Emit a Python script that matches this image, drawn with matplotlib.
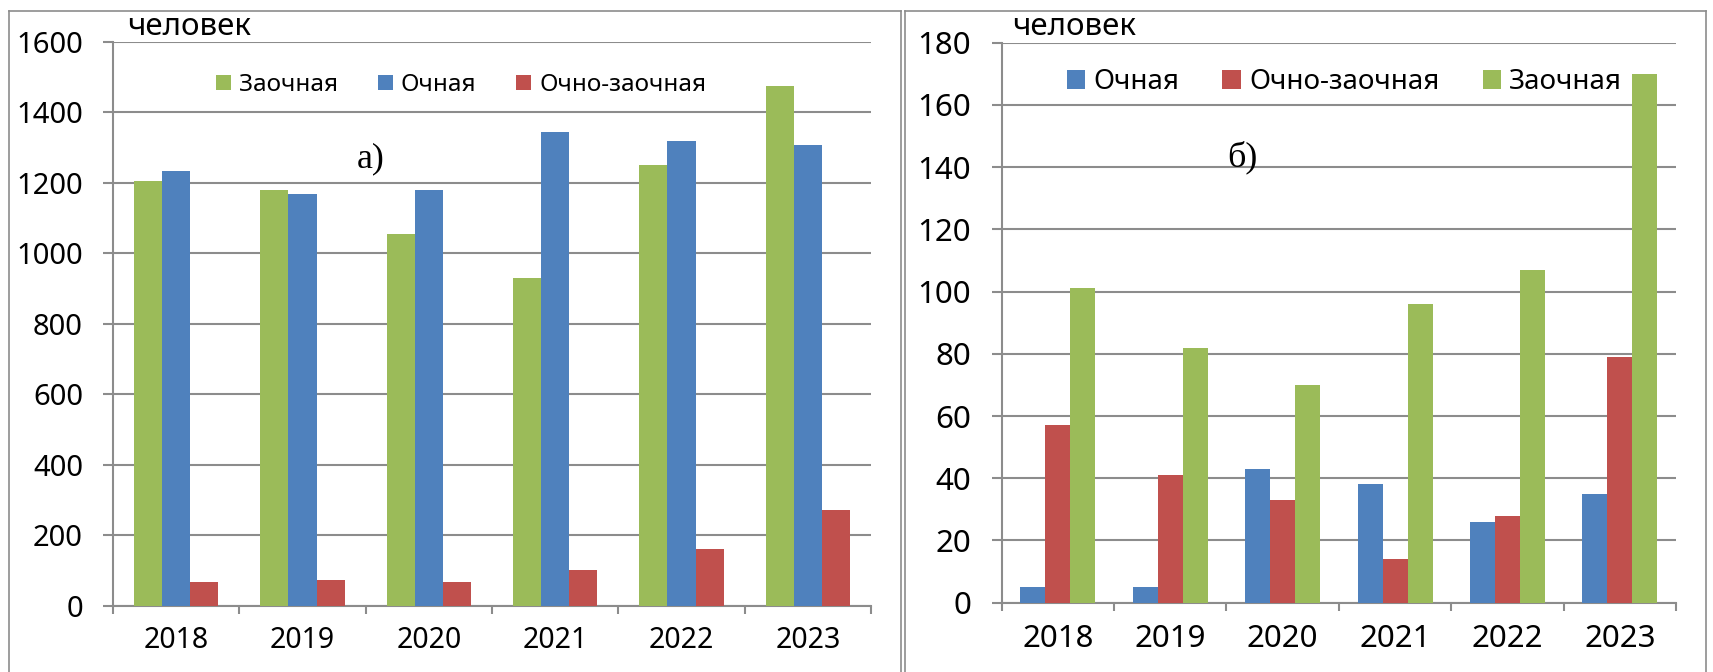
import numpy as np
import matplotlib
matplotlib.use("Agg")
import matplotlib.pyplot as plt
from matplotlib.lines import Line2D

plt.rcParams['font.family'] = ['Noto Sans', 'DejaVu Sans']

years = ['2018', '2019', '2020', '2021', '2022', '2023']

# panel a)
a_zaochnaya = [1205, 1179, 1053, 929, 1251, 1475]
a_ochnaya = [1233, 1167, 1178, 1343, 1318, 1306]
a_ochno_zaochnaya = [67, 72, 68, 101, 160, 272]

# panel б)
b_ochnaya = [5, 5, 43, 38, 26, 35]
b_ochno_zaochnaya = [57, 41, 33, 14, 28, 79]
b_zaochnaya = [101, 82, 70, 96, 107, 170]

GREEN = '#9BBB59'
BLUE = '#4F81BD'
RED = '#C0504D'
GRID = '#8c8c8c'

W, H = 1713, 672
fig = plt.figure(figsize=(W / 100, H / 100), dpi=100)
PX = 0.72  # points per pixel at dpi 100


def fx(px):
    return px / W


def fy(py):
    return 1 - py / H


# outer frames
for (l, r) in [(9, 901), (905, 1706)]:
    for xs, ys in [([l, l], [10.7, 700]), ([r, r], [10.7, 700]), ([l, r], [10.7, 10.7])]:
        fig.add_artist(Line2D([fx(v) for v in xs], [fy(v) for v in ys],
                              color=GRID, lw=1.2, transform=fig.transFigure))

ax1 = fig.add_axes([fx(113), fy(605.7), fx(871) - fx(113), fy(41.6) - fy(605.7)])
ax2 = fig.add_axes([fx(1001.7), fy(602.7), fx(1676) - fx(1001.7), fy(42.7) - fy(602.7)])

bw = 1 / 4.5
x = np.arange(len(years))


def style(ax, ymax, step, ytick_size, xtick_size, ypad, xpad):
    ax.set_xlim(-0.5, len(years) - 0.5)
    ax.set_ylim(0, ymax)
    ax.set_yticks(np.arange(0, ymax + 1, step))
    ax.set_xticks(x)
    ax.set_xticklabels(years)
    ax.set_xticks(np.arange(-0.5, len(years), 1.0), minor=True)
    ax.tick_params(axis='x', which='major', length=0, labelsize=xtick_size, pad=xpad)
    ax.tick_params(axis='x', which='minor', length=8 * PX, width=1.5, color=GRID,
                   direction='out')
    ax.tick_params(axis='y', length=10 * PX, width=1.5, color=GRID, direction='out',
                   labelsize=ytick_size, pad=ypad)
    for s in ['top', 'right']:
        ax.spines[s].set_visible(False)
    for s in ['left', 'bottom']:
        ax.spines[s].set_color(GRID)
        ax.spines[s].set_linewidth(1.5)
    ax.yaxis.grid(True, color=GRID, lw=1.5)
    ax.set_axisbelow(True)


# panel a
ax1.bar(x - bw, a_zaochnaya, bw, color=GREEN, label='Заочная', zorder=3)
ax1.bar(x, a_ochnaya, bw, color=BLUE, label='Очная', zorder=3)
ax1.bar(x + bw, a_ochno_zaochnaya, bw, color=RED, label='Очно-заочная', zorder=3)
style(ax1, 1600, 200, 21, 20.5, 20 * PX, 20 * PX)

# panel b
ax2.bar(x - bw, b_ochnaya, bw, color=BLUE, label='Очная', zorder=3)
ax2.bar(x, b_ochno_zaochnaya, bw, color=RED, label='Очно-заочная', zorder=3)
ax2.bar(x + bw, b_zaochnaya, bw, color=GREEN, label='Заочная', zorder=3)
style(ax2, 180, 20, 22.5, 22.5, 20.7 * PX, 21 * PX)

leg1 = ax1.legend(ncol=3, loc='center', bbox_to_anchor=(fx(461), fy(85)),
                  bbox_transform=fig.transFigure, frameon=False, fontsize=17.5,
                  handlelength=0.62, handleheight=0.62, handletextpad=0.33,
                  columnspacing=1.65, borderpad=0)
leg2 = ax2.legend(ncol=3, loc='center', bbox_to_anchor=(fx(1344.5), fy(82)),
                  bbox_transform=fig.transFigure, frameon=False, fontsize=20,
                  handlelength=0.66, handleheight=0.66, handletextpad=0.3,
                  columnspacing=1.55, borderpad=0)

fig.text(fx(127), fy(35), 'человек', fontsize=22.5, va='baseline', ha='left')
fig.text(fx(1012), fy(35), 'человек', fontsize=22.5, va='baseline', ha='left')

fig.text(fx(357), fy(167), 'а)', fontsize=26, family='Liberation Serif',
         va='baseline', ha='left')
fig.text(fx(1227), fy(166), 'б)', fontsize=26, family='Liberation Serif',
         va='baseline', ha='left')

fig.savefig('out.png', dpi=100)
